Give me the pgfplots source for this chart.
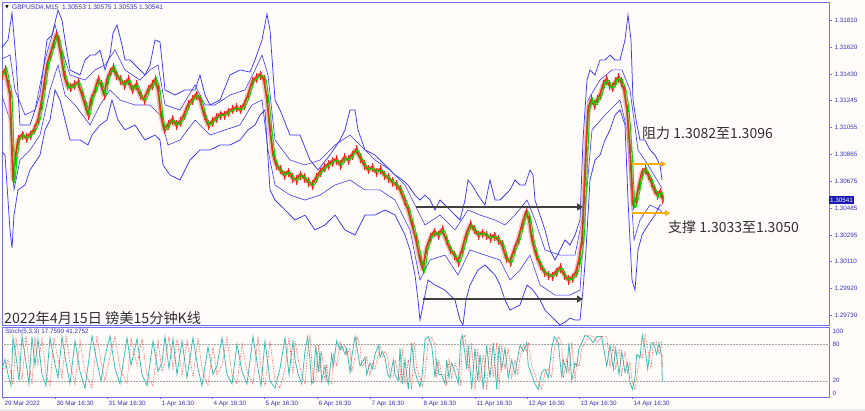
\documentclass[border=0pt]{standalone}
\usepackage{pgfplots}
\pgfplotsset{compat=1.18}
\usepackage{pgfplotstable}
\usepackage{fontspec}
\setmainfont{Liberation Sans}
\newfontfamily\cjk{Noto Sans CJK SC}
\newfontfamily\dejavu{DejaVu Sans}
\usetikzlibrary{arrows.meta}
\definecolor{bg}{HTML}{FFFCFA}
\definecolor{frame}{HTML}{7070EA}
\definecolor{lbl}{HTML}{3434C0}
\definecolor{band}{HTML}{3A3AFF}
\definecolor{candR}{HTML}{FF2020}
\definecolor{candG}{HTML}{00E000}
\definecolor{olivec}{HTML}{8A7410}
\definecolor{pinkc}{HTML}{F2A0A0}
\definecolor{stK}{HTML}{3CC0B4}
\definecolor{stD}{HTML}{FF3030}
\definecolor{orangeA}{HTML}{FFB000}
\definecolor{arrowgray}{HTML}{404040}
\definecolor{txt}{HTML}{303030}
\definecolor{pricebox}{HTML}{1818B0}

\pgfplotstableread{
x y
2 1.31422
5 1.31458
8 1.31352
10 1.31281
12 1.30894
13 1.30682
15 1.30823
18 1.30964
22 1.30999
26 1.30978
30 1.30999
34 1.31035
38 1.31105
41 1.31211
44 1.31352
47 1.31493
50 1.31563
53 1.31634
56 1.31704
58 1.31669
61 1.31563
64 1.31422
67 1.31352
70 1.31331
74 1.31352
78 1.31366
82 1.31281
85 1.31211
88 1.31140
91 1.31246
95 1.31317
98 1.31387
101 1.31352
104 1.31281
107 1.31387
110 1.31443
113 1.31472
116 1.31422
120 1.31387
124 1.31352
128 1.31387
132 1.31317
136 1.31352
140 1.31281
144 1.31246
148 1.31317
152 1.31352
155 1.31387
158 1.31317
161 1.31140
164 1.31035
168 1.31070
172 1.31105
176 1.31070
180 1.31091
184 1.31140
188 1.31211
192 1.31246
196 1.31281
200 1.31246
204 1.31140
208 1.31070
212 1.31091
216 1.31119
220 1.31140
224 1.31140
228 1.31161
232 1.31176
236 1.31190
240 1.31176
244 1.31211
248 1.31281
252 1.31373
256 1.31401
260 1.31422
264 1.31387
267 1.31246
270 1.31035
273 1.30858
276 1.30788
280 1.30753
284 1.30717
288 1.30738
292 1.30696
296 1.30682
300 1.30717
304 1.30696
308 1.30668
312 1.30647
316 1.30696
320 1.30738
324 1.30767
328 1.30788
332 1.30809
336 1.30823
340 1.30788
344 1.30837
348 1.30823
352 1.30858
356 1.30894
360 1.30837
364 1.30788
368 1.30753
372 1.30767
376 1.30738
380 1.30753
384 1.30717
388 1.30696
392 1.30668
396 1.30647
400 1.30612
404 1.30541
408 1.30471
412 1.30365
416 1.30259
420 1.30118
423 1.30048
426 1.30189
430 1.30273
434 1.30315
438 1.30294
442 1.30330
446 1.30259
450 1.30189
454 1.30153
458 1.30104
462 1.30189
466 1.30294
470 1.30365
474 1.30330
478 1.30294
482 1.30308
486 1.30294
490 1.30273
494 1.30287
498 1.30259
502 1.30224
506 1.30132
510 1.30104
514 1.30189
518 1.30259
522 1.30365
526 1.30456
529 1.30400
532 1.30259
536 1.30153
540 1.30083
544 1.30033
548 1.30012
552 1.30005
556 1.30033
560 1.30062
564 1.30012
568 1.29977
572 1.29991
576 1.30033
579 1.30118
582 1.30259
584 1.30541
586 1.30894
588 1.31176
591 1.31246
594 1.31211
597 1.31246
600 1.31281
603 1.31352
606 1.31387
609 1.31352
612 1.31331
615 1.31373
618 1.31401
621 1.31373
624 1.31317
627 1.31176
630 1.30894
633 1.30506
636 1.30541
639 1.30647
642 1.30738
645 1.30753
648 1.30717
651 1.30668
654 1.30612
657 1.30576
660 1.30597
662 1.30548
}\tPrice

\pgfplotstableread{
x y
0 1.31598
8 1.31669
12 1.31859
16 1.31528
20 1.31070
30 1.31070
40 1.31281
47 1.31669
52 1.31704
58 1.31880
62 1.31810
65 1.31669
70 1.31458
80 1.31422
85 1.31528
90 1.31563
95 1.31563
100 1.31598
105 1.31458
110 1.31563
113 1.31718
117 1.31775
122 1.31634
125 1.31528
130 1.31528
135 1.31493
145 1.31422
150 1.31493
155 1.31669
160 1.31655
165 1.31317
175 1.31281
185 1.31317
195 1.31317
200 1.31422
205 1.31281
210 1.31211
220 1.31246
230 1.31422
240 1.31458
250 1.31443
255 1.31528
262 1.31669
267 1.31852
270 1.31739
275 1.31246
280 1.31176
290 1.30999
300 1.30999
310 1.30823
318 1.30753
330 1.30858
340 1.30964
345 1.31035
350 1.31176
355 1.31176
358 1.31035
365 1.30894
375 1.30858
385 1.30788
395 1.30717
400 1.30696
408 1.30647
415 1.30576
420 1.30541
425 1.30576
430 1.30541
435 1.30471
440 1.30541
450 1.30471
460 1.30400
465 1.30541
468 1.30682
472 1.30647
478 1.30576
485 1.30506
490 1.30682
495 1.30541
500 1.30541
510 1.30612
515 1.30682
520 1.30647
525 1.30647
530 1.30753
533 1.30717
535 1.30541
540 1.30435
545 1.30330
550 1.30189
555 1.30118
560 1.30189
565 1.30259
570 1.30224
575 1.30294
580 1.30400
583 1.30964
587 1.31387
590 1.31458
595 1.31422
600 1.31528
605 1.31528
610 1.31563
615 1.31528
620 1.31528
625 1.31669
628 1.31845
631 1.31669
633 1.31246
636 1.31105
640 1.30964
645 1.30964
650 1.30894
655 1.30858
660 1.30788
662 1.30682
}\tUp

\pgfplotstableread{
x y
0 1.30894
5 1.30858
10 1.30330
12 1.30203
14 1.30435
18 1.30612
25 1.30647
30 1.30753
40 1.30858
45 1.31035
50 1.31105
55 1.31317
60 1.31246
65 1.31105
70 1.30964
80 1.30964
88 1.30929
92 1.30999
100 1.31070
107 1.31105
112 1.31246
118 1.31105
125 1.31035
135 1.31070
145 1.30964
155 1.30999
160 1.30964
163 1.30788
170 1.30717
180 1.30682
190 1.30823
200 1.30894
210 1.30894
220 1.30929
230 1.30929
240 1.30964
248 1.31035
255 1.31070
260 1.31140
265 1.31176
270 1.30612
275 1.30541
285 1.30471
295 1.30400
305 1.30435
315 1.30330
325 1.30365
335 1.30435
345 1.30330
355 1.30294
365 1.30435
375 1.30435
385 1.30471
395 1.30435
405 1.30294
410 1.30189
415 1.30012
418 1.29836
420 1.29695
422 1.29765
428 1.29977
435 1.29942
445 1.29906
455 1.29836
460 1.29695
463 1.29660
466 1.29836
470 1.29942
478 1.30048
485 1.30083
495 1.30012
500 1.29942
505 1.29836
510 1.29765
520 1.29801
527 1.29942
533 1.29906
540 1.29836
545 1.29765
550 1.29730
555 1.29695
560 1.29660
565 1.29681
570 1.29709
575 1.29695
580 1.29695
583 1.29906
586 1.30189
590 1.30682
595 1.30823
600 1.30858
605 1.30964
610 1.31035
615 1.31140
620 1.31176
625 1.31070
628 1.30541
632 1.29977
635 1.29906
638 1.30189
642 1.30294
648 1.30365
655 1.30435
660 1.30506
662 1.30506
}\tLo

\pgfplotstableread{
x y
0 1.31528
10 1.31563
15 1.31317
25 1.31140
35 1.31176
45 1.31528
55 1.31775
62 1.31598
70 1.31422
85 1.31387
95 1.31458
105 1.31493
115 1.31598
125 1.31458
140 1.31387
150 1.31458
158 1.31493
165 1.31211
180 1.31176
195 1.31352
205 1.31211
215 1.31211
230 1.31281
245 1.31317
255 1.31458
262 1.31563
268 1.31422
275 1.30964
290 1.30823
305 1.30788
320 1.30823
335 1.30929
350 1.30999
360 1.30929
375 1.30823
390 1.30753
405 1.30647
415 1.30506
425 1.30365
440 1.30435
455 1.30330
468 1.30471
480 1.30435
495 1.30400
505 1.30365
515 1.30435
527 1.30541
535 1.30400
545 1.30189
560 1.30153
575 1.30153
582 1.30400
588 1.31246
600 1.31387
612 1.31458
622 1.31458
630 1.31317
638 1.30894
648 1.30788
660 1.30647
662 1.30626
}\tIU

\pgfplotstableread{
x y
0 1.31317
10 1.31105
14 1.30612
20 1.30823
30 1.30894
40 1.30999
50 1.31317
58 1.31493
65 1.31281
75 1.31211
90 1.31070
100 1.31211
110 1.31317
120 1.31246
135 1.31211
150 1.31211
160 1.31140
168 1.30929
180 1.30964
195 1.31105
210 1.30999
225 1.31035
240 1.31070
252 1.31211
262 1.31246
268 1.30894
275 1.30647
290 1.30576
305 1.30541
320 1.30576
335 1.30647
350 1.30682
365 1.30612
380 1.30612
395 1.30541
410 1.30330
420 1.29977
430 1.30118
445 1.30153
458 1.30012
470 1.30189
485 1.30153
500 1.30118
510 1.29977
520 1.30048
530 1.30153
540 1.29942
555 1.29871
570 1.29871
580 1.29906
586 1.30541
592 1.31035
605 1.31140
620 1.31246
627 1.31035
634 1.30259
640 1.30400
650 1.30506
660 1.30471
662 1.30456
}\tIL

\pgfplotstableread{
x y
2 40
5 55
8 30
11 12
13 90
16 60
19 20
22 93
26 50
29 15
32 92
35 45
38 88
42 30
46 12
50 90
54 55
58 25
62 92
66 50
70 15
75 85
80 35
85 8
92 93
97 50
101 20
105 60
110 93
115 40
120 15
127 90
131 45
137 88
142 30
147 12
153 85
158 35
162 50
165 92
169 40
173 88
177 30
182 85
187 25
193 90
198 40
202 12
208 75
213 30
217 45
222 90
227 30
232 15
237 80
242 35
247 15
253 92
258 40
261 12
265 85
270 20
275 8
280 40
285 90
289 30
293 85
295 54
298.3 30
301.7 15
305 68
307.7 92
310 54
311.7 15
313.3 20
315.7 78
318.3 34
320 68
321.7 20
325 44
326.7 25
328.3 15
331.7 63
333.3 44
336.7 85
340 70
341.7 78
345 63
346.7 73
350 34
351.7 58
355 92
356.7 78
360 44
361.7 49
365 58
366.7 30
370 49
372.3 39
375 63
378.3 78
380 58
382.3 68
385 58
387.7 30
390 25
393.3 54
395 30
398.3 20
400 73
402.3 15
405 54
408.3 6
411.7 82
414.3 39
416.7 25
420 10
422.3 30
425 87
428.3 92
431.7 78
435 25
436.7 54
439 30
441.7 30
445 15
446.7 54
449 25
451.7 49
455 34
458.3 15
460.7 87
462.3 94
465 63
466.7 39
468.3 78
471.7 6
475 73
477.7 20
480 63
483.3 6
486.7 78
490 25
493.3 82
496.7 6
499 78
501.7 39
505 73
508.3 25
511.7 54
515 30
517.7 58
520 78
523.3 68
526.7 82
528.3 44
531.7 30
535 15
538.3 6
541.7 34
545 39
548.3 25
551.7 73
554.3 92
558.3 82
561.7 25
563.3 54
566.7 34
569 82
571.7 20
575 49
576.7 44
579 73
581.7 82
585 94
588.3 92
593.3 82
596.7 92
601.7 92
606.7 44
610 78
613.3 39
615.7 73
619 30
621.7 68
625 34
627.7 49
630 18
632.3 6
635 25
636.7 63
640 58
642.3 94
645 73
647.7 39
651 82
653.3 82
656.7 63
659 82
661.7 58
662.3 18
}\tK

\pgfplotstableread{
x y
2 40
5 40
8 55
11 30
13 12
16 90
19 60
22 20
26 93
29 50
32 15
35 92
38 45
42 88
46 30
50 12
54 90
58 55
62 25
66 92
70 50
75 15
80 85
85 35
92 8
97 93
101 50
105 20
110 60
115 93
120 40
127 15
131 90
137 45
142 88
147 30
153 12
158 85
162 35
165 50
169 92
173 40
177 88
182 30
187 85
193 25
198 90
202 40
208 12
213 75
217 30
222 45
227 90
232 30
237 15
242 80
247 35
253 15
258 92
261 40
265 12
270 85
275 20
280 8
285 40
289 90
293 30
295 85
298.3 54
301.7 30
305 15
307.7 68
310 92
311.7 54
313.3 15
315.7 20
318.3 78
320 34
321.7 68
325 20
326.7 44
328.3 25
331.7 15
333.3 63
336.7 44
340 85
341.7 70
345 78
346.7 63
350 73
351.7 34
355 58
356.7 92
360 78
361.7 44
365 49
366.7 58
370 30
372.3 49
375 39
378.3 63
380 78
382.3 58
385 68
387.7 58
390 30
393.3 25
395 54
398.3 30
400 20
402.3 73
405 15
408.3 54
411.7 6
414.3 82
416.7 39
420 25
422.3 10
425 30
428.3 87
431.7 92
435 78
436.7 25
439 54
441.7 30
445 30
446.7 15
449 54
451.7 25
455 49
458.3 34
460.7 15
462.3 87
465 94
466.7 63
468.3 39
471.7 78
475 6
477.7 73
480 20
483.3 63
486.7 6
490 78
493.3 25
496.7 82
499 6
501.7 78
505 39
508.3 73
511.7 25
515 54
517.7 30
520 58
523.3 78
526.7 68
528.3 82
531.7 44
535 30
538.3 15
541.7 6
545 34
548.3 39
551.7 25
554.3 73
558.3 92
561.7 82
563.3 25
566.7 54
569 34
571.7 82
575 20
576.7 49
579 44
581.7 73
585 82
588.3 94
593.3 92
596.7 82
601.7 92
606.7 92
610 44
613.3 78
615.7 39
619 73
621.7 30
625 68
627.7 34
630 49
632.3 18
635 6
636.7 25
640 63
642.3 58
645 94
647.7 73
651 39
653.3 82
656.7 82
659 63
661.7 82
662.3 41
}\tD

\begin{document}
\begin{tikzpicture}[x=1pt,y=1pt]
\fill[bg] (0,0) rectangle (865,411);
\fill[black!8] (0,0) rectangle (865,1.5);

% ---------------- main pane
\begin{axis}[
  at={(2pt,86pt)}, anchor=south west,
  width=827pt, height=323pt, scale only axis,
  xmin=2, xmax=829, ymin=1.29660, ymax=1.31937,
  axis line style={frame, line width=0.9pt},
  xtick=\empty,
  ytick={1.29730,1.29920,1.30110,1.30295,1.30485,1.30675,1.30865,1.31055,1.31245,1.31430,1.31620,1.31810},
  yticklabels={1.29730,1.29920,1.30110,1.30295,1.30485,1.30675,1.30865,1.31055,1.31245,1.31430,1.31620,1.31810},
  yticklabel pos=right, ytick pos=right,
  tick align=outside, major tick length=2.5pt,
  tick style={frame, line width=0.6pt},
  yticklabel style={font=\fontsize{6.3}{7}\selectfont, text=lbl, xshift=-0.5pt},
  clip mode=individual,
]
\addplot[band, line width=0.75pt] table {\tUp};
\addplot[band, line width=0.75pt] table {\tLo};
\addplot[band, line width=0.6pt] table {\tIU};
\addplot[band, line width=0.6pt] table {\tIL};
\addplot[pinkc, line width=5pt, opacity=0.6, line join=round] table {\tPrice};
\addplot[only marks, mark=*, mark size=0pt, mark options={draw=none, fill=none},
  error bars/.cd, y dir=both, y fixed=0.00032, error mark=none,
  error bar style={draw=candR, line width=0.9pt}] table {\tPrice};
\addplot[olivec, line width=1.9pt, line join=round] table {\tPrice};
\addplot[only marks, mark=*, mark size=0pt, mark options={draw=none, fill=none}, xshift=1.5pt,
  error bars/.cd, y dir=both, y fixed=0.00018, error mark=none,
  error bar style={draw=candG, line width=0.8pt}] table {\tPrice};
\addplot[candR, line width=0.7pt, yshift=1.5pt, line join=round] table {\tPrice};
\addplot[candG, line width=0.9pt, xshift=2pt, smooth, line join=round] table {\tPrice};

\draw[arrowgray, line width=2.6pt, -{Triangle[length=6pt,width=7pt]}] (axis cs:416,1.30492) -- (axis cs:583,1.30492);
\draw[arrowgray, line width=2.6pt, -{Triangle[length=6pt,width=7pt]}] (axis cs:423,1.29843) -- (axis cs:583,1.29843);
\draw[orangeA, line width=2pt, -{Triangle[length=5pt,width=6pt]}] (axis cs:632,1.30795) -- (axis cs:666,1.30795);
\draw[orangeA, line width=2pt, -{Triangle[length=5pt,width=6pt]}] (axis cs:632,1.30449) -- (axis cs:670,1.30449);
\node[fill=pricebox, text=white, font=\fontsize{6.3}{7}\selectfont, inner sep=1pt, anchor=west, minimum height=8pt] at (axis cs:829,1.30541) {1.30541};
\end{axis}

% ---------------- stochastic pane
\begin{axis}[
  at={(2pt,14pt)}, anchor=south west,
  width=827pt, height=70pt, scale only axis,
  xmin=2, xmax=829, ymin=-6.5, ymax=107.7,
  axis line style={frame, line width=0.9pt},
  ytick={0,20,80,100}, yticklabels={0,20,80,100},
  yticklabel pos=right, ytick pos=right,
  ytick style={draw=none},
  yticklabel style={font=\fontsize{6.3}{7}\selectfont, text=lbl, xshift=-2pt},
  xtick={3,55,107,160,212,264,317,370,422,475,527,579,632},
  xticklabels={29 Mar 2022,30 Mar 16:30,31 Mar 16:30,1 Apr 16:30,4 Apr 16:30,5 Apr 16:30,6 Apr 16:30,7 Apr 16:30,8 Apr 16:30,11 Apr 16:30,12 Apr 16:30,13 Apr 16:30,14 Apr 16:30},
  xtick pos=bottom, tick align=outside, major tick length=2pt,
  xtick style={frame, line width=0.6pt},
  xticklabel style={font=\fontsize{6.3}{7}\selectfont, text=lbl, anchor=north west, xshift=-2pt, yshift=1pt},
  clip mode=individual,
]
\draw[black!35, densely dotted, line width=0.5pt] (axis cs:2,80) -- (axis cs:829,80);
\draw[black!35, densely dotted, line width=0.5pt] (axis cs:2,20) -- (axis cs:829,20);
\addplot[stK, line width=0.8pt] table {\tK};
\addplot[stD, line width=0.6pt, densely dotted] table {\tD};
\end{axis}

% ---------------- texts
\node[font=\dejavu\fontsize{4.5}{5}\selectfont, text=black, inner sep=0] at (7,403.5) {▼};
\node[anchor=west, font=\fontsize{6.6}{7}\selectfont, text=lbl, inner sep=0] at (12,403.5) {GBPUSD\#,M15\ \ 1.30553 1.30575 1.30535 1.30541};
\node[anchor=west, font=\fontsize{6.3}{7}\selectfont, text=lbl, inner sep=0] at (5,79) {Stoch(5,3,3) 17.7590 41.2752};
\node[anchor=west, font=\cjk\fontsize{14.2}{15}\selectfont, text=txt, inner sep=0] at (4,93) {2022年4月15日 镑美15分钟K线};
\node[anchor=west, font=\cjk\fontsize{14}{14}\selectfont, text=txt, inner sep=0] at (642,278) {阻力 1.3082至1.3096};
\node[anchor=west, font=\cjk\fontsize{14}{14}\selectfont, text=txt, inner sep=0] at (668,184) {支撑 1.3033至1.3050};
\end{tikzpicture}
\end{document}
